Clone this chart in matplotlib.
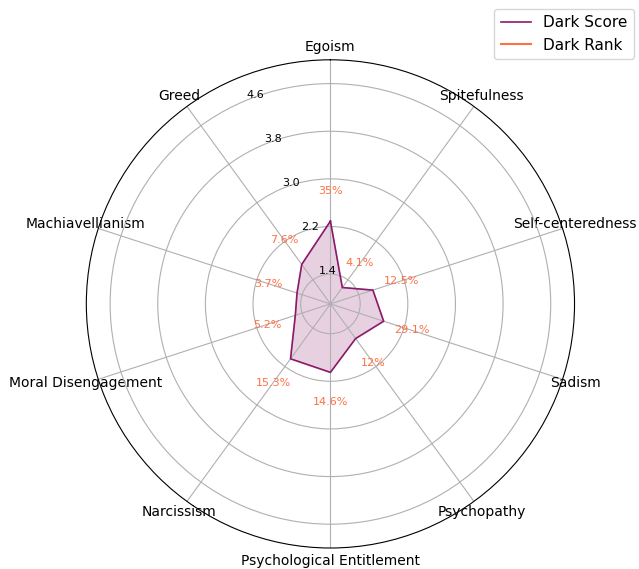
import numpy as np
import matplotlib.pyplot as plt

# traits, clockwise from the top
labels = ['Egoism', 'Spitefulness', 'Self-centeredness', 'Sadism', 'Psychopathy',
          'Psychological Entitlement', 'Narcissism', 'Moral Disengagement',
          'Machiavellianism', 'Greed']
dark_score = [2.29, 1.24, 1.65, 1.84, 1.62, 2.05, 2.04, 1.52, 1.49, 1.72]
dark_rank = ['35%', '4.1%', '12.5%', '29.1%', '12%', '14.6%', '15.3%', '5.2%', '3.7%', '7.6%']
rticks = [1.4, 2.2, 3.0, 3.8, 4.6]

score_color = '#8b1a6b'
rank_color = '#ff7043'

N = len(labels)
angles = np.linspace(0, 2 * np.pi, N, endpoint=False)
# close the polygon
ang = np.concatenate([angles, angles[:1]])
vals = np.concatenate([dark_score, dark_score[:1]])

fig = plt.figure(figsize=(6.39, 5.69), dpi=100)
ax = fig.add_axes([0.1346, 0.0369, 0.765, 0.858], projection='polar')
ax.set_theta_offset(np.pi / 2)
ax.set_theta_direction(-1)

ax.plot(ang, vals, color=score_color, linewidth=1.2, label='Dark Score')
ax.fill(ang, vals, color=score_color, alpha=0.2)
ax.plot([], [], color=rank_color, linewidth=1.5, label='Dark Rank')

for a, v, t in zip(angles, dark_score, dark_rank):
    ax.text(a, v + 0.5, t, color=rank_color, fontsize=8, ha='center', va='center')

ax.set_xticks(angles)
ax.set_xticklabels(labels, fontsize=10)
ax.tick_params(axis='x', pad=-1)
ax.set_ylim(0.9, 5.0)
ax.set_yticks(rticks)
ax.set_yticklabels([f'{r:.1f}' for r in rticks], fontsize=8)
ax.set_rlabel_position(-22.5)
ax.grid(color='#b0b0b0', linewidth=0.8)

ax.legend(loc='upper right', bbox_to_anchor=(1.137, 1.12), fontsize=11)

fig.savefig('out.png', dpi=100)
